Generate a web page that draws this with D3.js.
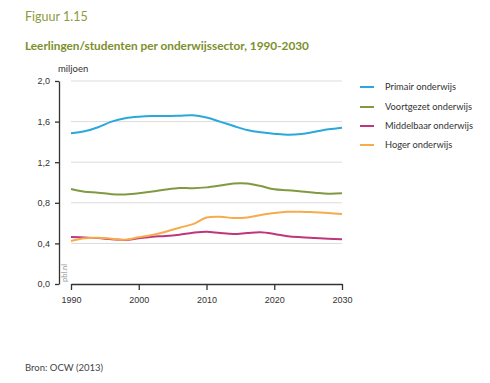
<!doctype html>
<html>
<head>
    <meta charset="utf-8">
    <title>Leerlingen/studenten per onderwijssector</title>
    <script src="https://d3js.org/d3.v7.min.js"></script>
    <style type="text/css">
        html, body { margin: 0; background: #fff; }
        svg { display: block; font-family: Lato, "Open Sans", sans-serif; }
        .grid line { stroke: #dcdcdc; stroke-width: 1; }
        .axis path, .axis line { stroke: #333; stroke-width: 1.3; }
        .axis text { fill: #333; font-size: 9px; }
    </style>
</head>
<body>
<svg id="chart" width="490" height="383"></svg>
<script type="text/javascript">
    var years = [1990, 1992, 1994, 1996, 1998, 2000, 2002, 2004, 2006, 2008, 2010,
                 2012, 2014, 2016, 2018, 2020, 2022, 2024, 2026, 2028, 2030];

    var primair =    [1.485, 1.505, 1.545, 1.600, 1.633, 1.648, 1.655, 1.655, 1.658, 1.662, 1.640,
                      1.600, 1.557, 1.517, 1.494, 1.481, 1.471, 1.478, 1.500, 1.524, 1.540];
    var voortgezet = [0.936, 0.910, 0.900, 0.885, 0.882, 0.893, 0.912, 0.932, 0.946, 0.943, 0.952,
                      0.970, 0.990, 0.990, 0.965, 0.933, 0.924, 0.912, 0.900, 0.890, 0.893];
    var middelbaar = [0.463, 0.458, 0.452, 0.440, 0.433, 0.450, 0.466, 0.473, 0.486, 0.505, 0.515,
                      0.502, 0.493, 0.502, 0.509, 0.493, 0.470, 0.460, 0.453, 0.446, 0.440];
    var hoger =      [0.424, 0.450, 0.456, 0.446, 0.437, 0.460, 0.483, 0.515, 0.555, 0.590, 0.655,
                      0.663, 0.650, 0.656, 0.680, 0.700, 0.712, 0.712, 0.706, 0.700, 0.690];

    var seriesNames = ["Primair onderwijs", "Voortgezet onderwijs", "Middelbaar onderwijs", "Hoger onderwijs"];
    var seriesColors = ["#2aa8dc", "#7f9a40", "#c0367b", "#f7ab4b"];
    var seriesValues = [primair, voortgezet, middelbaar, hoger];

    var xTicks = [1990, 2000, 2010, 2020, 2030];
    var yTicks = [0, 0.4, 0.8, 1.2, 1.6, 2.0];

    var svg = d3.select("#chart");

    // titels
    svg.append("text").attr("x", 25).attr("y", 21)
        .attr("fill", "#8c9b3c").attr("font-size", "12.5px")
        .text("Figuur 1.15");
    svg.append("text").attr("x", 25).attr("y", 50)
        .attr("fill", "#7c8f2c").attr("font-size", "11.8px").attr("font-weight", "bold")
        .text("Leerlingen/studenten per onderwijssector, 1990-2030");

    var x = d3.scaleLinear().domain([1990, 2030]).range([71, 342]);
    var y = d3.scaleLinear().domain([0, 2]).range([284, 81]);

    // rasterlijnen
    svg.append("g").attr("class", "grid")
        .selectAll("line").data(yTicks.slice(1)).enter().append("line")
        .attr("x1", x(1990)).attr("x2", x(2030))
        .attr("y1", function(d) { return y(d); })
        .attr("y2", function(d) { return y(d); });

    var fmt = function(d) { return d3.format(".1f")(d).replace(".", ","); };

    svg.append("g").attr("class", "axis")
        .attr("transform", "translate(59,0)")
        .call(d3.axisLeft(y).tickValues(yTicks).tickFormat(fmt).tickSize(4).tickSizeOuter(0).tickPadding(5));

    svg.append("g").attr("class", "axis")
        .attr("transform", "translate(0,284)")
        .call(d3.axisBottom(x).tickValues(xTicks).tickFormat(d3.format("d")).tickSize(6).tickSizeOuter(0).tickPadding(7));

    svg.append("text").attr("x", 58).attr("y", 72)
        .attr("fill", "#333").attr("font-size", "9.5px").text("miljoen");

    svg.append("text")
        .attr("transform", "translate(67,282) rotate(-90)")
        .attr("fill", "#999").attr("font-size", "7.5px").text("pbl.nl");

    // lijnen
    var line = d3.line()
        .x(function(d, i) { return x(years[i]); })
        .y(function(d) { return y(d); })
        .curve(d3.curveCatmullRom.alpha(0.5));

    svg.append("g").selectAll("path").data(seriesValues).enter().append("path")
        .attr("fill", "none")
        .attr("stroke", function(d, i) { return seriesColors[i]; })
        .attr("stroke-width", 2)
        .attr("d", line);

    // legenda
    var legend = svg.append("g").selectAll("g").data(seriesNames).enter().append("g")
        .attr("transform", function(d, i) { return "translate(360," + [87, 107, 126, 145][i] + ")"; });
    legend.append("line").attr("x1", 0).attr("x2", 14)
        .attr("stroke", function(d, i) { return seriesColors[i]; }).attr("stroke-width", 2);
    legend.append("text").attr("x", 25).attr("y", 3)
        .attr("fill", "#333").attr("font-size", "9.3px")
        .text(function(d) { return d; });

    svg.append("text").attr("x", 25).attr("y", 371)
        .attr("fill", "#444").attr("font-size", "9.5px").text("Bron: OCW (2013)");
</script>
</body>
</html>
